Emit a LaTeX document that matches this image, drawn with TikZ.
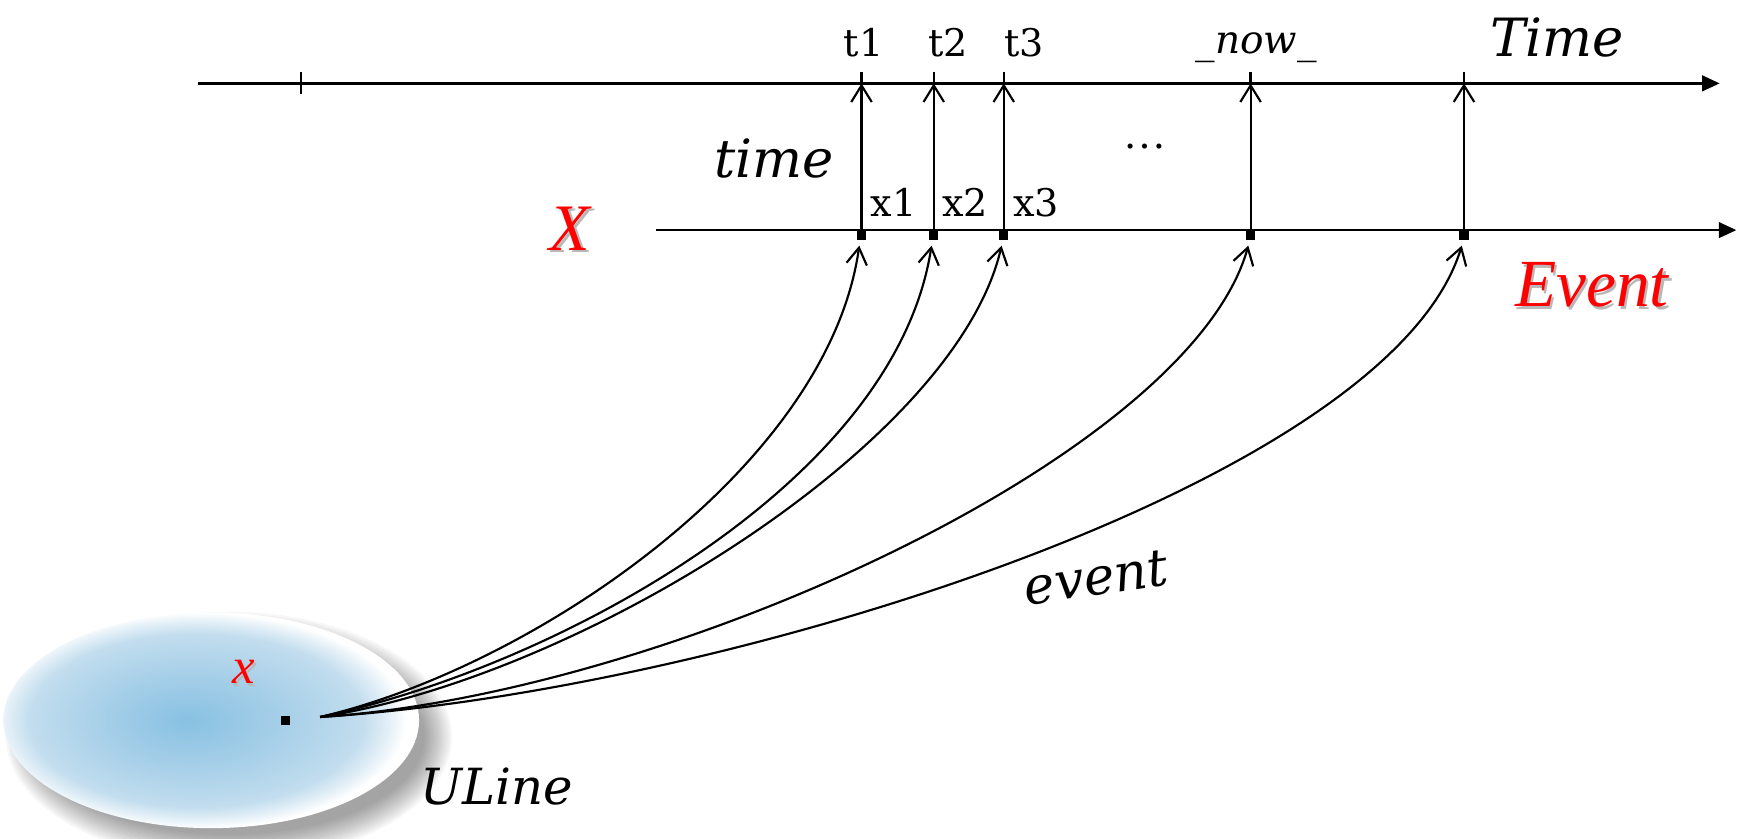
\documentclass[tikz,border=0pt]{standalone}
\usepackage{fontspec}
\setmainfont{DejaVu Serif}
\newfontfamily\tnr{Liberation Serif}
\usetikzlibrary{arrows.meta}
\definecolor{eC}{HTML}{88C1E2}
\definecolor{eM}{HTML}{A4CEE8}
\definecolor{eE}{HTML}{C2DDEE}
\pgfdeclareradialshading{ellshade}{\pgfpoint{-3bp}{0bp}}{color(0bp)=(eC); color(10bp)=(eM); color(20bp)=(eE); color(23bp)=(eE!45!white); color(25bp)=(white); color(50bp)=(white)}
\newcommand\shtext[1]{\makebox[0pt][l]{\kern1.3pt\raisebox{-1.3pt}{\textcolor{black!28}{#1}}}#1}
\begin{document}
\begin{tikzpicture}[x=0.02cm, y=-0.02cm,
  axisline/.style={line width=1.3pt, -{Triangle[length=9pt,width=8pt]}},
  tickline/.style={line width=1.2pt},
  vec/.style={line width=1.1pt, -{Straight Barb[length=8.5pt,width=10.5pt]}},
  evarrow/.style={line width=1.1pt, -{Straight Barb[length=8.5pt,width=10.5pt]}},
  ptbox/.style={fill=black, draw=none, inner sep=0pt, minimum size=4.8pt},
  uplab/.style={font=\fontsize{19.5}{22}\selectfont, inner sep=0pt, anchor=base},
  itlab/.style={font=\fontsize{27}{30}\selectfont\itshape, inner sep=0pt, anchor=base},
  redlab/.style={font=\fontsize{34}{36}\selectfont\tnr\itshape, text=red, inner sep=0pt, anchor=base}
]
\useasboundingbox (0,0) rectangle (1568,754);

% ellipse shadow
\foreach \k in {0,...,13}
  \fill[black, opacity=0.032] (206,663) ellipse [x radius={176+\k*1.9}, y radius={88+\k*1.9}];
% ellipse
\shade[shading=ellshade] (190,648) ellipse [x radius=187, y radius=97];
\node[ptbox] (xp) at (257,648) {};
\coordinate (S) at (288,645);
\node[redlab, font=\fontsize{26}{28}\selectfont\tnr\itshape] (xl) at (219,615) {\shtext{x}};
\node[itlab, font=\fontsize{25.5}{28}\selectfont\itshape] (uline) at (447,724) {ULine};

% axes
\coordinate (T0) at (178,75);
\coordinate (T1) at (1547,75);
\draw[axisline] (T0) -- (T1);
\coordinate (X0) at (590,207);
\coordinate (X1) at (1562,207);
\draw[axisline] (X0) -- (X1);
\coordinate (tk) at (271,75);
\draw[tickline] ([yshift=-5.6pt]tk) -- ([yshift=5.6pt]tk);

% points on X and arrows up to Time
\foreach \i/\xx in {1/775, 2/840, 3/903, 4/1125, 5/1317} {
  \node[ptbox] (p\i) at (\xx,211.5) {};
  \coordinate (a\i) at (\xx,75);
  \coordinate (q\i) at (\xx-2,221);
  \draw[vec] (p\i.north) -- (a\i);
  \draw[tickline] (a\i) -- ++(0,-10);
}

% labels
\node[uplab] (t1) at (777,51) {t1};
\node[uplab] (t2) at (853,51) {t2};
\node[uplab] (t3) at (921,51) {t3};
\node[uplab] (x1) at (804,195) {x1};
\node[uplab] (x2) at (868,195) {x2};
\node[uplab] (x3) at (932,195) {x3};
\node[itlab, font=\fontsize{20}{22}\selectfont\itshape] (now) at (1130,48) {\_now\_};
\node[itlab] (Time) at (1401,51) {Time};
\node[itlab] (time) at (696,160) {time};
\node[inner sep=0pt, anchor=base, font=\fontsize{22}{22}\selectfont\tnr] (dots) at (1030,134) {…};
\node[redlab] (X) at (513,225) {\shtext{X}};
\node[redlab, font=\fontsize{34.5}{36}\selectfont\tnr\itshape] (Event) at (1432,276) {\shtext{Event}};
\node[itlab, font=\fontsize{26.5}{28}\selectfont\itshape, anchor=center, rotate=8] (event) at (986,520) {event};

% event curves
\draw[evarrow] (S) .. controls (480,600) and (745,420) .. (q1);
\draw[evarrow] (S) .. controls (500,600) and (805,435) .. (q2);
\draw[evarrow] (S) .. controls (520,610) and (860,400) .. (q3);
\draw[evarrow] (S) .. controls (600,625) and (1070,410) .. (q4);
\draw[evarrow] (S) .. controls (650,622) and (1250,435) .. (q5);
\end{tikzpicture}
\end{document}
